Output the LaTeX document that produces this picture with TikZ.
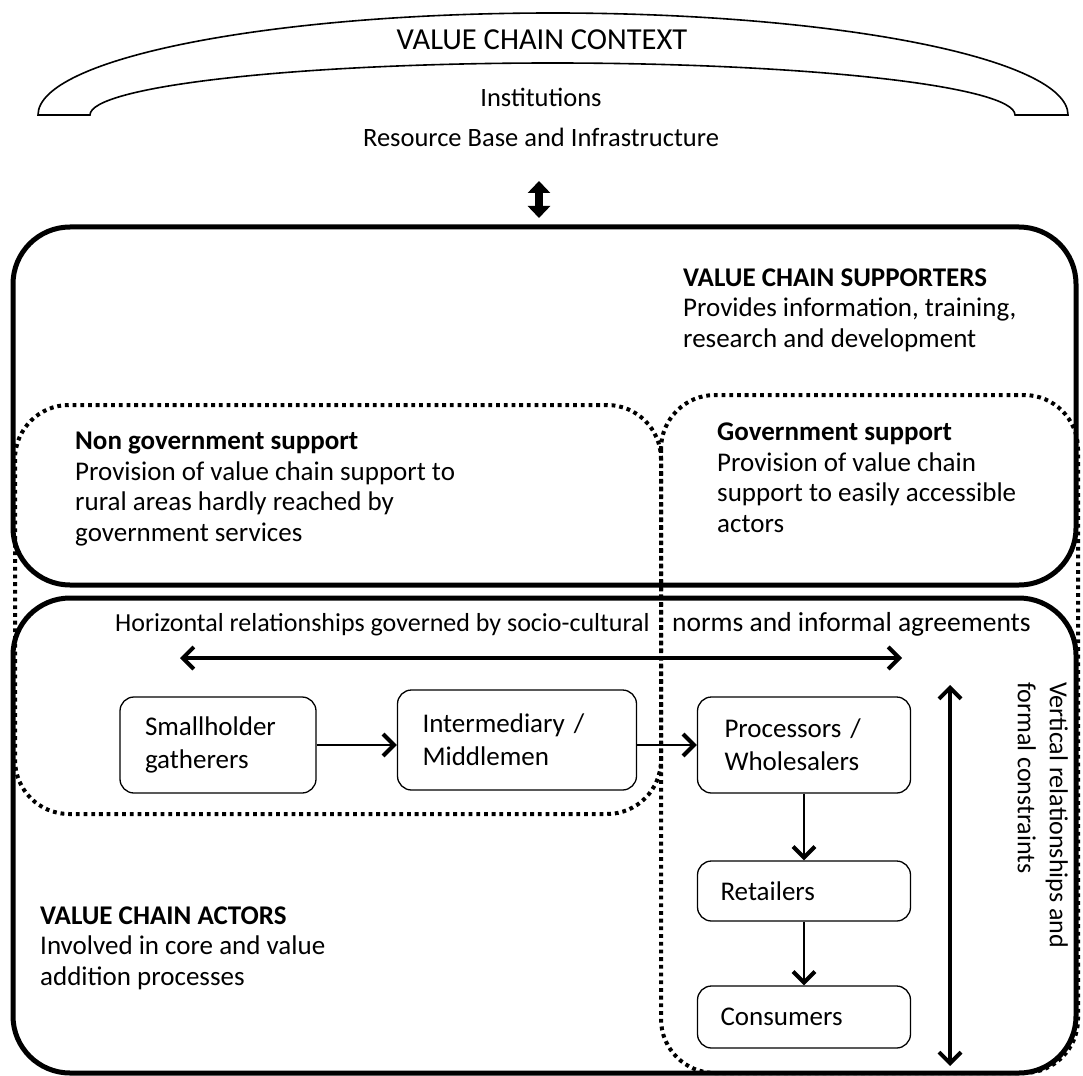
\documentclass[tikz,border=0pt]{standalone}
\usepackage{fontspec}
\setmainfont{Carlito}
\usepackage{tikz}
\usetikzlibrary{arrows.meta,positioning,calc}

\begin{document}
\begin{tikzpicture}[
    x=1pt, y=-1pt,
    txt/.style={anchor=base west, align=left, inner sep=0pt, font=\fontsize{27.5}{30.5}\selectfont},
    head/.style={txt, font=\fontsize{27}{30.5}\selectfont\bfseries},
    frame/.style={line width=5pt, rounded corners=57pt},
    dots/.style={line width=4pt, dash pattern=on 3.8pt off 3.9pt, rounded corners=54pt},
    actor/.style={rectangle, draw, rounded corners=14pt, line width=1.3pt, align=left, inner xsep=0pt, font=\fontsize{27}{33}\selectfont},
    flow/.style={-{Straight Barb[length=11pt, width=22pt, line width=4pt]}, line width=2pt},
    relation/.style={{Straight Barb[length=11pt, width=22pt, line width=4pt]}-{Straight Barb[length=11pt, width=22pt, line width=4pt]}, line width=4pt},
    ctxarrow/.style={{Triangle[length=12pt, width=22pt]}-{Triangle[length=12pt, width=22pt]}, line width=8pt}
]
\useasboundingbox (0,0) rectangle (1083,1075);

% Context arch
\draw[line width=1.6pt] (38,115) arc[start angle=180, end angle=360, x radius=515, y radius=102]
    -- (1015,115) arc[start angle=0, end angle=-180, x radius=462.5, y radius=52] -- cycle;
\node[anchor=base, inner sep=0pt, font=\fontsize{30.5}{34}\selectfont] (context) at (542,50) {VALUE CHAIN CONTEXT};
\node[anchor=base, inner sep=0pt, font=\fontsize{26.5}{30}\selectfont] (institutions) at (541,107) {Institutions};
\node[anchor=base, inner sep=0pt, font=\fontsize{26.5}{30}\selectfont] (resbase) at (541,147) {Resource Base and Infrastructure};

% Link between context and chain
\coordinate (ctxtop) at (539,181);
\coordinate (ctxbot) at (539,218);
\draw[ctxarrow] (ctxtop) -- (ctxbot);

% Supporters and actors
\draw[frame] (13,227) rectangle (1076,585);
\draw[frame] (13,598) rectangle (1076,1073);

% Support areas
\draw[dots] (15,405) rectangle (661,814);
\draw[dots] (661,395) rectangle (1078,1073);

% Headings
\node[head] (supporters) at (683,347) {VALUE CHAIN SUPPORTERS\\\mdseries Provides information, training,\\\mdseries research and development};
\node[head] (ngo) at (75,541) {Non government support\\\mdseries Provision of value chain support to\\\mdseries rural areas hardly reached by\\\mdseries government services};
\node[head] (gov) at (717,532) {Government support\\\mdseries Provision of value chain\\\mdseries support to easily accessible\\\mdseries actors};
\node[head] (actors) at (40,985) {VALUE CHAIN ACTORS\\\mdseries Involved in core and value\\\mdseries addition processes};

% Horizontal relationships
\node[txt, font=\fontsize{26}{30}\selectfont] (horiz) at (115,631) {Horizontal relationships governed by socio-cultural};
\node[txt] (norms) at (672,631) {norms and informal agreements};
\coordinate (hleft) at (180,658);
\coordinate (hright) at (902,658);
\draw[relation] (hleft) -- (hright);

% Vertical relationships
\node[txt, anchor=north west, rotate=-90, font=\fontsize{26}{32}\selectfont] (vert) at (1068,682) {Vertical relationships and\\formal constraints};
\coordinate (vtop) at (950,685);
\coordinate (vbot) at (950,1066);
\draw[relation] (vtop) -- (vbot);

% Actors
\node[actor, minimum width=196pt, minimum height=96pt, text width=146pt] (smallholder) at (218,745) {Smallholder\\gatherers};
\node[actor, minimum width=239pt, minimum height=100pt, text width=189pt] (middlemen) at (517,740) {Intermediary /\\Middlemen};
\node[actor, minimum width=213pt, minimum height=96pt, text width=159pt] (processors) at (804,745) {Processors /\\Wholesalers};
\node[actor, minimum width=213pt, minimum height=60pt, text width=167pt] (retailers) at (804,891) {Retailers};
\node[actor, minimum width=213pt, minimum height=62pt, text width=167pt] (consumers) at (804,1017) {Consumers};

% Flow of product
\draw[flow] (smallholder.east) -- (smallholder.east -| middlemen.west);
\draw[flow] (middlemen.east |- smallholder.east) -- (processors.west |- smallholder.east);
\draw[flow] (processors) -- (retailers);
\draw[flow] (retailers) -- (consumers);

\end{tikzpicture}
\end{document}
